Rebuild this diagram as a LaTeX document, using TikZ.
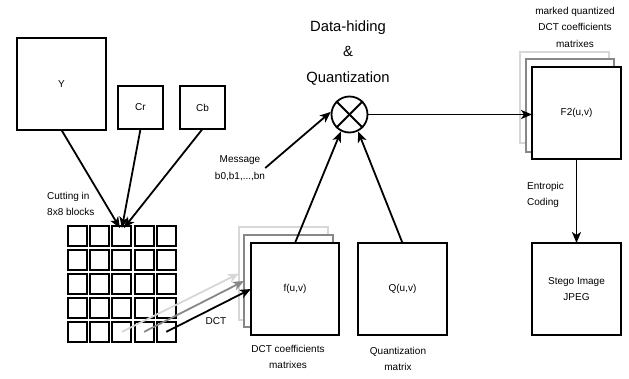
\documentclass[tikz,border=0pt]{standalone}
\usepackage{fontspec}
\setmainfont{Liberation Sans}
\usetikzlibrary{arrows.meta,calc}
\definecolor{lightg}{RGB}{215,215,215}
\definecolor{midg}{RGB}{135,135,135}
\begin{document}
\begin{tikzpicture}[x=1pt,y=-1pt,
 box/.style={draw,line width=2pt,fill=white,anchor=north west,inner sep=0pt,outer sep=0pt,align=center,font=\fontsize{10}{16.5}\selectfont},
 cell/.style={draw,line width=2pt,anchor=north west,minimum width=19pt,minimum height=20.5pt,inner sep=0pt,outer sep=0pt},
 lbl/.style={font=\fontsize{10}{16.5}\selectfont,align=center,inner sep=0pt},
 big/.style={font=\fontsize{14.8}{25.5}\selectfont,align=center,inner sep=0pt},
 arr/.style={line width=1.8pt,-{Stealth[length=11pt,width=9pt,inset=3pt]}},
 ln/.style={line width=1.8pt}
]
\useasboundingbox (0,0) rectangle (629,379);

% source planes
\node[box,minimum width=89pt,minimum height=92pt] (Y) at (17,38) {Y};
\node[box,minimum width=45pt,minimum height=43pt] (Cr) at (118,86) {Cr};
\node[box,minimum width=45pt,minimum height=43pt] (Cb) at (180,86) {Cb};

% block grid
\foreach \i in {0,...,4}
  \foreach \j in {0,...,4}
    \node[cell] (c-\i-\j) at ({68+22.2*\i},{226+23.9*\j}) {};

\node[lbl,align=left,anchor=west] (cut) at (47,204) {Cutting in\\8x8 blocks};

\draw[arr] (Y.south) -- ($(c-2-0.north)+(-2,2)$);
\draw[arr] (Cr.south) -- ($(c-2-0.north)+(0,2)$);
\draw[arr] (Cb.south) -- ($(c-2-0.north)+(2,2)$);

% DCT coefficient stack
\node[box,draw=lightg,line width=1.8pt,minimum width=89pt,minimum height=93pt] (flight) at (239,227) {};
\node[box,draw=midg,line width=1.8pt,minimum width=89pt,minimum height=92pt] (fgray) at (244,235) {};
\node[box,minimum width=88pt,minimum height=92pt] (ffront) at (251,243) {f(u,v)};
\node[lbl] (dctlbl) at (288,357) {DCT coefficients\\matrixes};

\draw[arr,draw=lightg] (c-2-4.center) -- (flight.west);
\draw[arr,draw=midg] (c-3-4.center) -- (fgray.west);
\draw[arr] (c-4-4.center) -- (ffront.west);
\node[lbl] (dct) at (216,321) {DCT};

% quantization matrix
\node[box,minimum width=89pt,minimum height=92pt] (Q) at (358,243) {Q(u,v)};
\node[lbl] (qlbl) at (398,359) {Quantization\\matrix};

% data hiding operator
\node[draw,circle,line width=1.8pt,minimum size=36pt,inner sep=0pt] (circ) at (349.5,114.5) {};
\draw[ln] (circ.45) -- (circ.225);
\draw[ln] (circ.135) -- (circ.315);
\node[big] (dh) at (348,53) {Data-hiding\\\&\\Quantization};

\node[lbl] (msg) at (240,168) {Message\\b0,b1,...,bn};
\draw[arr] (msg.east) -- (circ.172);
\draw[arr] (ffront.north) -- (circ.243);
\draw[arr] (Q.north) -- (circ.297);

% marked matrices stack
\node[box,draw=lightg,line width=1.8pt,minimum width=89pt,minimum height=91pt] (Flight) at (520,52) {};
\node[box,draw=midg,line width=1.8pt,minimum width=88pt,minimum height=93pt] (Fgray) at (526,59) {};
\node[box,minimum width=89pt,minimum height=92pt] (F2) at (532,67) {F2(u,v)};
\node[lbl] (mq) at (575,27) {marked quantized\\DCT coefficients\\matrixes};

\draw[arr] (circ.east) -- (circ.east -| F2.west);

% output
\node[box,minimum width=89pt,minimum height=92pt] (stego) at (532,243) {Stego Image\\JPEG};
\draw[arr] (F2.south) -- (stego.north);
\node[lbl,align=left,anchor=west] (ent) at (527,195) {Entropic\\Coding};
\end{tikzpicture}
\end{document}
